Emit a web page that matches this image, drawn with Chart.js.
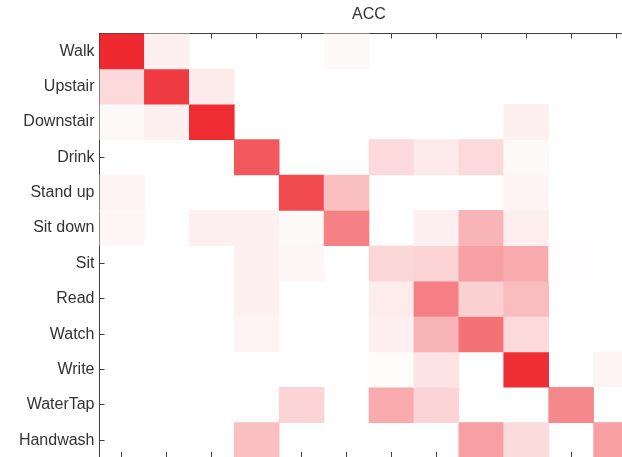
<!DOCTYPE html>
<html>
<head>
<meta charset="utf-8">
<script src="https://cdn.jsdelivr.net/npm/chart.js@4"></script>
<style>
  html, body { margin: 0; padding: 0; background: #fff; overflow: hidden; width: 622px; height: 457px; }
  #c { position: absolute; left: 0; top: 0; }
</style>
</head>
<body>
<canvas id="c" width="660" height="470" style="width:660px;height:470px"></canvas>
<script>
// Row (true) and column (predicted) categories
const rowLabels = ['Walk','Upstair','Downstair','Drink','Stand up','Sit down','Sit','Read','Watch','Write','WaterTap','Handwash'];
const colLabels = ['Walk','Upstair','Downstair','Drink','Stand up','Sit down','Sit','Read','Watch','Write','WaterTap','Handwash'];
const chartTitle = 'ACC';

// Colour intensity per cell (0 = white, 1 = full red), one array per row
const walk      = [1.00,0.07,0,   0,   0,   0.03,0,    0,   0,   0,   0,   0   ];
const upstair   = [0.18,0.92,0.10,0,   0,   0,   0,    0,   0,   0,   0,   0   ];
const downstair = [0.03,0.07,0.99,0,   0,   0,   0,    0,   0,   0.07,0,   0   ];
const drink     = [0,   0,   0,   0.78,0,   0,   0.18, 0.10,0.18,0.03,0,   0   ];
const standUp   = [0.05,0,   0,   0,   0.85,0.30,0,    0,   0,   0.05,0,   0   ];
const sitDown   = [0.04,0,   0.07,0.07,0.03,0.59,0,    0.07,0.35,0.08,0,   0   ];
const sit       = [0,   0,   0,   0.07,0.04,0,   0.19, 0.20,0.44,0.40,0.01,0   ];
const read      = [0,   0,   0,   0.07,0,   0,   0.09, 0.60,0.22,0.31,0,   0   ];
const watch     = [0,   0,   0,   0.05,0,   0,   0.07, 0.35,0.66,0.18,0,   0   ];
const write     = [0,   0,   0,   0,   0,   0,   0.015,0.13,0,   0.98,0,   0.05];
const waterTap  = [0,   0,   0,   0,   0.20,0,   0.40, 0.20,0,   0,   0.56,0   ];
const handwash  = [0,   0,   0,   0.30,0,   0,   0,    0,   0.45,0.17,0,   0.45];

const matrix = [walk, upstair, downstair, drink, standUp, sitDown, sit, read, watch, write, waterTap, handwash];

function cellColor(v) {
  const r = Math.round(255 + (238 - 255) * v);
  const g = Math.round(255 + (42 - 255) * v);
  const b = Math.round(255 + (48 - 255) * v);
  return `rgb(${r},${g},${b})`;
}

const datasets = matrix.map((rowVals, r) => ({
  label: rowLabels[r],
  data: rowVals.map(v => v > 0 ? [r, r + 1] : null),
  backgroundColor: rowVals.map(cellColor),
  borderWidth: 0,
  barPercentage: 1,
  categoryPercentage: 1,
  grouped: false,
  xAxisID: 'x',
  yAxisID: 'y'
}));

const FONT = '"Liberation Sans", Arial, Helvetica, sans-serif';
const AXIS = '#404040';

new Chart(document.getElementById('c'), {
  type: 'bar',
  data: { labels: colLabels, datasets },
  options: {
    responsive: false,
    animation: false,
    devicePixelRatio: 1,
    layout: { padding: { left: 0, top: 0, right: 21.5, bottom: 0 } },
    plugins: { legend: { display: false }, tooltip: { enabled: false }, title: { display: false } },
    scales: {
      x: {
        type: 'category',
        position: 'bottom',
        offset: true,
        z: 1,
        grid: { display: true, drawOnChartArea: false, offset: false, tickLength: -6, color: AXIS, lineWidth: 1 },
        border: { display: true, color: AXIS, width: 1 },
        ticks: { display: false },
        afterFit: s => { s.height = 12; s.paddingLeft = 0; s.paddingRight = 0; }
      },
      xTop: {
        type: 'category',
        position: 'top',
        offset: true,
        z: 1,
        labels: colLabels,
        grid: { display: true, drawOnChartArea: false, offset: false, tickLength: -5, color: AXIS, lineWidth: 1 },
        border: { display: true, color: AXIS, width: 1 },
        ticks: { display: false },
        title: { display: true, text: chartTitle, color: '#333', font: { family: FONT, size: 16 }, padding: { top: 5.4, bottom: 0 } },
        afterFit: s => { s.height = 33.5; s.paddingLeft = 0; s.paddingRight = 0; }
      },
      y: {
        type: 'linear',
        position: 'left',
        reverse: true,
        min: 0,
        max: 12,
        z: 1,
        grid: { display: true, drawOnChartArea: false, tickLength: -5, color: AXIS, lineWidth: 1 },
        border: { display: true, color: AXIS, width: 1 },
        afterBuildTicks: s => { s.ticks = rowLabels.map((_, i) => ({ value: i + 0.5 })); },
        ticks: {
          autoSkip: false,
          color: '#333',
          padding: 10,
          font: { family: FONT, size: 16 },
          callback: v => rowLabels[Math.floor(v)]
        },
        afterFit: s => { s.width = 99.5; s.paddingTop = 0; s.paddingBottom = 0; }
      }
    }
  }
});
</script>
</body>
</html>
